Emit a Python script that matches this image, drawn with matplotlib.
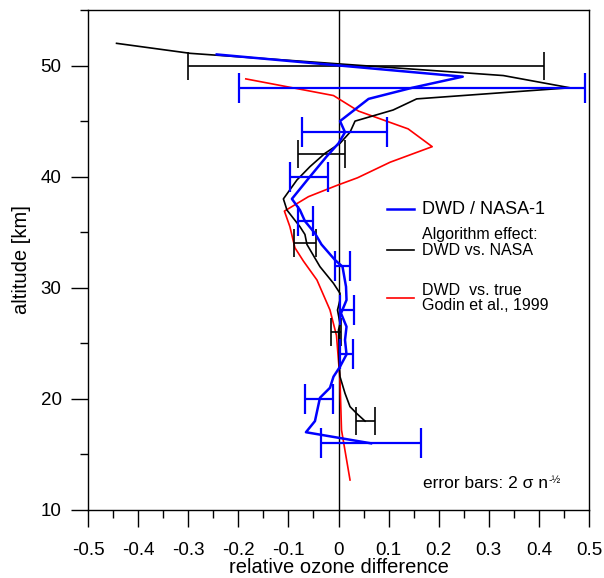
import matplotlib
matplotlib.use("Agg")
import matplotlib.pyplot as plt
from matplotlib.ticker import MultipleLocator, FuncFormatter
from matplotlib.lines import Line2D

plt.rcParams['font.family'] = ['Liberation Sans', 'DejaVu Sans']

# ---- data (altitude km, relative ozone difference) ----
black_alt = [52.0, 51.1, 49.1, 48.0, 47.0, 46.0, 45.0, 44.0, 43.0, 42.1, 40.9, 39.7, 38.0, 37.3, 37.0,
             35.5, 34.8, 33.9, 31.9, 30.4, 29.5, 28.9, 28.0, 26.8, 26.2, 25.0, 23.5, 22.0, 20.5,
             19.3, 18.7, 18.0]
black_x = [-0.443, -0.296, 0.329, 0.462, 0.156, 0.109, 0.033, 0.023, 0.003, -0.027, -0.057, -0.083, -0.110,
           -0.105, -0.103, -0.077, -0.067, -0.063, -0.037, -0.010, 0.003, 0.003, -0.002, 0.003, 0.000,
           0.001, 0.001, 0.003, 0.013, 0.023, 0.036, 0.053]

blue_alt = [51.0, 49.0, 48.0, 47.0, 45.0, 44.0, 43.0, 41.8, 40.0, 38.0, 37.0, 36.0, 34.9, 33.9, 32.5,
            31.9, 30.1, 28.9, 27.7, 26.5, 25.3, 24.0, 22.9, 22.0, 21.0, 20.1, 18.0, 17.0, 16.0]
blue_x = [-0.243, 0.248, 0.147, 0.060, 0.003, 0.013, 0.000, -0.024, -0.057, -0.093, -0.077, -0.067, -0.047,
          -0.034, -0.007, 0.008, 0.015, 0.016, 0.005, 0.016, 0.013, 0.016, 0.003, -0.010, -0.017,
          -0.037, -0.047, -0.065, 0.065]

red_alt = [48.8, 47.3, 45.9, 44.3, 42.7, 41.3, 39.9, 39.2, 38.2, 36.9, 35.5, 33.6, 32.4, 30.7, 28.0,
           25.7, 21.7, 17.2, 12.7]
red_x = [-0.185, -0.010, 0.040, 0.139, 0.187, 0.103, 0.038, -0.004, -0.060, -0.108, -0.097, -0.087,
         -0.070, -0.043, -0.017, -0.004, 0.003, 0.006, 0.023]

black_err_alt = [50, 42, 34, 26, 18]
black_err_x = [0.055, -0.034, -0.066, -0.005, 0.054]
black_err_w = [0.356, 0.047, 0.022, 0.010, 0.019]

blue_err_alt = [48, 44, 40, 36, 32, 28, 24, 20, 16]
blue_err_x = [0.147, 0.012, -0.058, -0.065, 0.008, 0.016, 0.016, -0.039, 0.065]
blue_err_w = [0.345, 0.084, 0.038, 0.015, 0.015, 0.014, 0.013, 0.028, 0.099]

legend_labels = ["DWD / NASA-1", "Algorithm effect:\nDWD vs. NASA", "DWD  vs. true\nGodin et al., 1999"]

# ---- figure ----
fig = plt.figure(figsize=(6.04, 5.78), dpi=100)
ax = fig.add_axes([88/604, 68/578, 501/604, 500/578])

ax.axvline(0, color='black', lw=1.0, zorder=1)

ax.plot(red_x, red_alt, color='#ff0000', lw=1.2, zorder=3)
ax.plot(black_x, black_alt, color='black', lw=1.2, zorder=4)
ax.errorbar(black_err_x, black_err_alt, xerr=black_err_w, fmt='none', ecolor='black',
            elinewidth=1.2, capsize=10, capthick=1.2, zorder=4)
ax.plot(blue_x, blue_alt, color='#0000ff', lw=1.8, zorder=5)
ax.errorbar(blue_err_x, blue_err_alt, xerr=blue_err_w, fmt='none', ecolor='#0000ff',
            elinewidth=1.6, capsize=10.5, capthick=1.6, zorder=5)

ax.set_xlim(-0.5, 0.5)
ax.set_ylim(10, 55)
ax.xaxis.set_major_locator(MultipleLocator(0.1))
ax.xaxis.set_minor_locator(MultipleLocator(0.05))
ax.yaxis.set_major_locator(MultipleLocator(10))
ax.yaxis.set_minor_locator(MultipleLocator(5))


def fmt(v, pos):
    if abs(v) < 1e-9:
        return '0'
    return ('%.1f' % v)


ax.xaxis.set_major_formatter(FuncFormatter(fmt))
ax.tick_params(axis='both', which='major', direction='out', length=12, width=1.0,
               labelsize=13.5)
ax.tick_params(axis='x', which='major', pad=11)
ax.tick_params(axis='y', which='major', pad=7)
ax.tick_params(axis='both', which='minor', direction='out', length=5.5, width=1.0)
ax.tick_params(top=False, right=False, which='both')
for s in ax.spines.values():
    s.set_linewidth(1.0)

ax.set_xlabel('relative ozone difference', fontsize=14.5, va='baseline')
ax.xaxis.set_label_coords(0.5, (510 - 573) / 500)
ax.set_ylabel('altitude [km]', fontsize=14.5, va='center')
ax.yaxis.set_label_coords((22 - 88) / 501, 0.5)

# ---- legend (manual) ----
lx0, lx1, tx = 0.597, 0.651, 0.667
ax.add_line(Line2D([lx0, lx1], [0.602, 0.602], color='#0000ff', lw=1.8, transform=ax.transAxes))
ax.add_line(Line2D([lx0, lx1], [0.520, 0.520], color='black', lw=1.2, transform=ax.transAxes))
ax.add_line(Line2D([lx0, lx1], [0.424, 0.424], color='#ff0000', lw=1.2, transform=ax.transAxes))
ax.text(tx, 0.600, legend_labels[0], transform=ax.transAxes, fontsize=13, va='center', ha='left')
ax.text(tx, 0.535, legend_labels[1], transform=ax.transAxes, fontsize=11.5, va='center', ha='left',
        linespacing=1.08)
ax.text(tx, 0.424, legend_labels[2], transform=ax.transAxes, fontsize=11.5, va='center', ha='left',
        linespacing=1.05)

t = ax.text(0.669, 0.054, 'error bars: 2 σ n', transform=ax.transAxes, fontsize=12.5,
            va='center', ha='left')
fig.canvas.draw()
bb = t.get_window_extent()
fig.text(bb.x1 / fig.bbox.width, (bb.y0 + bb.height * 0.72) / fig.bbox.height, '-½',
         fontsize=7.5, ha='left', va='center')

fig.savefig('out.png', dpi=100)
